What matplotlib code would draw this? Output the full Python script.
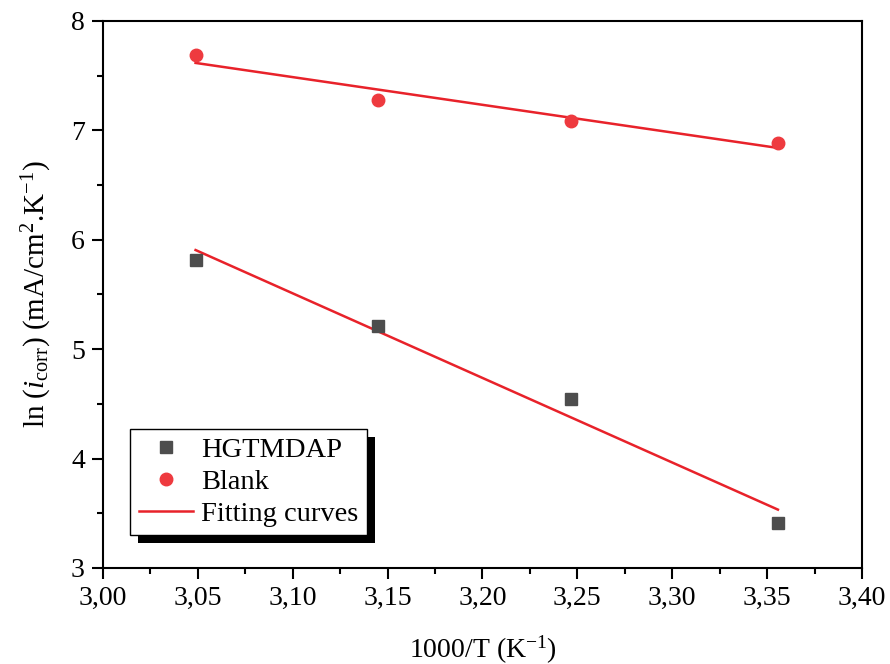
import numpy as np
import matplotlib
matplotlib.use("Agg")
import matplotlib.pyplot as plt
from matplotlib.ticker import MultipleLocator, FuncFormatter
from matplotlib.patches import Rectangle
from matplotlib.transforms import IdentityTransform

plt.rcParams['font.family'] = ['Liberation Serif', 'DejaVu Serif']
plt.rcParams['mathtext.fontset'] = 'custom'
plt.rcParams['mathtext.rm'] = 'Liberation Serif'
plt.rcParams['mathtext.it'] = 'Liberation Serif:italic'

# 1000/T values
inv_t = [3.0488, 3.1447, 3.2468, 3.3557]
ln_icorr_hgtmdap = [5.815, 5.21, 4.545, 3.41]
ln_icorr_blank = [7.69, 7.28, 7.09, 6.885]


def main():
    fig = plt.figure(figsize=(8.9, 6.64), dpi=100)
    ax = fig.add_axes([0.1157, 0.1446, 0.8528, 0.8238])

    x = np.array(inv_t)
    ax.plot(x, ln_icorr_hgtmdap, 's', color='#4d4d4d', markersize=8, label='HGTMDAP', zorder=3)
    ax.plot(x, ln_icorr_blank, 'o', color='#ee3a3f', markersize=9, label='Blank', zorder=3)

    # linear fits
    for ys in (ln_icorr_hgtmdap, ln_icorr_blank):
        k, b = np.polyfit(x, ys, 1)
        ax.plot(x[[0, -1]], k * x[[0, -1]] + b, '-', color='#e8222a', lw=1.8,
                label='Fitting curves' if ys is ln_icorr_hgtmdap else None, zorder=2)

    ax.set_xlim(3.0, 3.4)
    ax.set_ylim(3, 8)
    ax.xaxis.set_major_locator(MultipleLocator(0.05))
    ax.xaxis.set_minor_locator(MultipleLocator(0.025))
    ax.yaxis.set_major_locator(MultipleLocator(1))
    ax.yaxis.set_minor_locator(MultipleLocator(0.5))
    ax.xaxis.set_major_formatter(FuncFormatter(lambda v, p: f"{v:.2f}".replace('.', ',')))
    ax.tick_params(which='both', direction='out', top=False, right=False, width=1.5, labelsize=20)
    ax.tick_params(which='major', length=8, pad=5)
    ax.tick_params(which='minor', length=4)
    for s in ax.spines.values():
        s.set_linewidth(1.5)

    ax.set_xlabel('1000/T (K$^{-1}$)', fontsize=20, labelpad=16)
    ax.set_ylabel(r'ln ($\mathit{i}_{\rm corr}$) (mA/cm$^2$.K$^{-1}$)', fontsize=21, labelpad=12)

    h, l = ax.get_legend_handles_labels()
    leg = ax.legend(h, l, loc='lower left', bbox_to_anchor=(0.0356, 0.060), fontsize=20.5,
                    frameon=True, fancybox=False, shadow=False, borderpad=0.3,
                    handlelength=1.9, handletextpad=0.3, labelspacing=0.2, borderaxespad=0)
    leg.get_frame().set_edgecolor('black')
    leg.get_frame().set_linewidth(1.0)
    leg.get_frame().set_alpha(1)
    leg.set_zorder(5)

    # black drop shadow behind the legend
    fig.canvas.draw()
    bb = leg.get_frame().get_window_extent()
    off = 8
    sh = Rectangle((bb.x0 + off, bb.y0 - off), bb.width, bb.height,
                   transform=IdentityTransform(), facecolor='black', edgecolor='none',
                   zorder=4.5, clip_on=False)
    ax.add_artist(sh)

    fig.savefig('out.png', dpi=100)
    plt.close(fig)


if __name__ == '__main__':
    main()
